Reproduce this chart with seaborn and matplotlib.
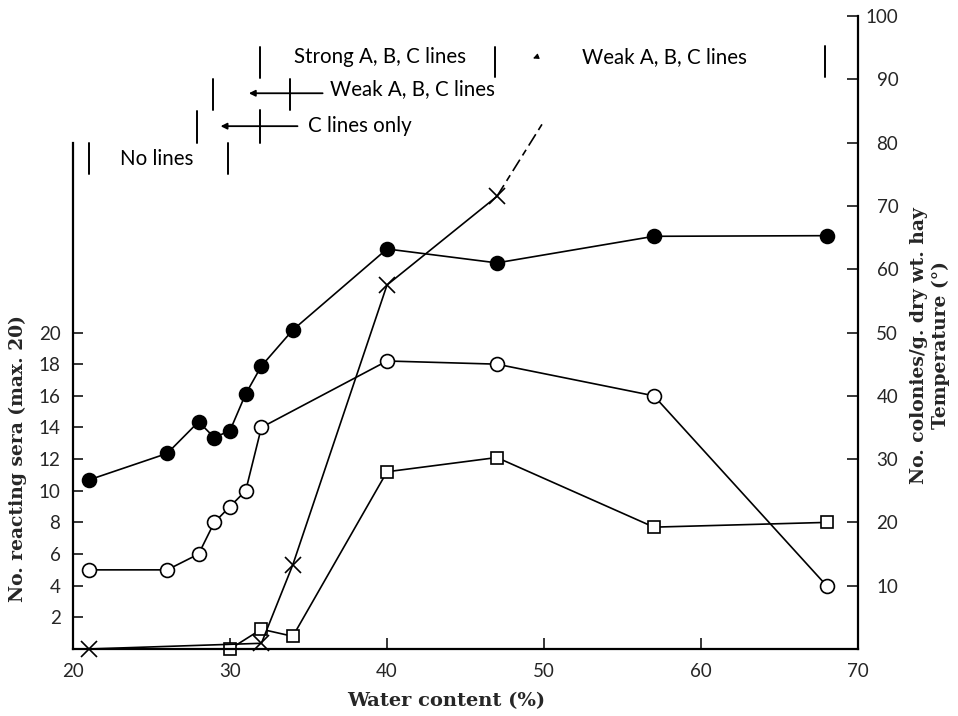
import matplotlib
matplotlib.use("Agg")
import matplotlib.pyplot as plt
import seaborn as sns

# ---- data -------------------------------------------------------------
# water content (%) for each series
temp_x = [21, 26, 28, 29, 30, 31, 32, 34, 40, 47, 57, 68]
temp_y = [26.7, 30.9, 35.9, 33.4, 34.5, 40.3, 44.7, 50.4, 63.2, 61.0, 65.2, 65.3]   # temperature (deg)

sera_x = [21, 26, 28, 29, 30, 31, 32, 40, 47, 57, 68]
sera_y = [5, 5, 6, 8, 9, 10, 14, 18.2, 18, 16, 4]                              # reacting sera

sq_x = [21, 30, 32, 34, 40, 47, 57, 68]
sq_y = [0, 0, 1.25, 0.8, 11.2, 12.1, 7.7, 8.0]                                 # reacting sera (second set)

col_x = [21, 32, 34, 40, 47]
col_y = [0, 0.9, 13.3, 57.5, 71.5]                                             # colonies / g dry wt.
col_ext_x = [47, 50]
col_ext_y = [71.5, 83.4]                                                       # projected continuation

x_ticks = [20, 30, 40, 50, 60, 70]
left_ticks = [2, 4, 6, 8, 10, 12, 14, 16, 18, 20]
right_ticks = [10, 20, 30, 40, 50, 60, 70, 80, 90, 100]

# precipitin-line zones drawn across the top (x in water %, y on right scale)
zone_labels = ["No lines", "C lines only", "Weak A, B, C lines",
               "Strong A, B, C lines", "Weak A, B, C lines"]
zone_text_x = [23.0, 35.0, 36.4, 34.1, 52.4]
zone_text_y = [77.4, 82.6, 88.4, 93.5, 93.5]
bar_x = [21.0, 29.9, 27.9, 31.9, 28.9, 33.8, 31.9, 46.9, 67.9]
bar_y0 = [75.0, 75.0, 80.0, 80.0, 85.2, 85.2, 90.2, 90.3, 90.3]
bar_y1 = [80.0, 80.0, 85.0, 85.1, 90.0, 90.0, 95.1, 95.1, 95.3]
arrow_tail_x = [34.3, 35.9]
arrow_head_x = [29.4, 31.2]
arrow_y = [82.6, 87.8]

# ---- styling ----------------------------------------------------------
sns.set_theme(style="ticks")
plt.rcParams["font.family"] = ["Lato", "DejaVu Sans"]
serif = dict(family="DejaVu Serif", weight="bold", size=13.5)

fig = plt.figure(figsize=(9.58, 7.16), dpi=100)
ax = fig.add_axes([0.0762, 0.0936, 0.8194, 0.884])
ax2 = ax.twinx()

line_kw = dict(color="black", linewidth=1.2, clip_on=False, markeredgewidth=1.2,
               markeredgecolor="black")

# left-axis series
sns.lineplot(x=sera_x, y=sera_y, ax=ax, marker="o", markersize=10,
             markerfacecolor="white", **line_kw)
sns.lineplot(x=sq_x, y=sq_y, ax=ax, marker="s", markersize=9,
             markerfacecolor="white", markevery=list(range(1, len(sq_x))), **line_kw)

# right-axis series
sns.lineplot(x=temp_x, y=temp_y, ax=ax2, marker="o", markersize=10,
             markerfacecolor="black", **line_kw)
sns.lineplot(x=col_x, y=col_y, ax=ax2, marker="x", markersize=11, **line_kw)
ax2.plot(col_ext_x, col_ext_y, color="black", linewidth=1.2,
         dashes=(8, 3, 4, 3), clip_on=False)

# ---- axes -------------------------------------------------------------
ax.set_xlim(20, 70)
ax.set_ylim(0, 40)
ax2.set_ylim(0, 100)

ax.set_xticks(x_ticks)
ax.set_yticks(left_ticks)
ax2.set_yticks(right_ticks)

ax.tick_params(axis="x", direction="in", length=8, width=1.3, pad=10, labelsize=13.5)
ax.tick_params(axis="y", direction="in", length=7, width=1.3, pad=9, labelsize=13.5)
ax2.tick_params(axis="y", direction="in", length=8, width=1.3, pad=29, labelsize=13.5)
for lbl in ax2.get_yticklabels():
    lbl.set_horizontalalignment("right")

for s in ["top", "right"]:
    ax.spines[s].set_visible(False)
for s in ["top", "left", "bottom"]:
    ax2.spines[s].set_visible(False)
ax.spines["left"].set_bounds(0, 32)
ax.spines["bottom"].set_bounds(20, 70)
ax2.spines["right"].set_bounds(0, 100)
for sp in [ax.spines["left"], ax.spines["bottom"], ax2.spines["right"]]:
    sp.set_linewidth(1.6)
    sp.set_color("black")

ax.set_xlabel("Water content (%)", family="DejaVu Serif", weight="bold", size=14)
ax.xaxis.set_label_coords(0.475, -0.068)
ax.set_ylabel("")
ax2.set_ylabel("")
fig.text(0.0188, 0.360, "No. reacting sera (max. 20)", rotation=90,
         ha="center", va="center", **serif)
fig.text(0.971, 0.518, "No. colonies/g. dry wt. hay\nTemperature (°)", rotation=90,
         ha="center", va="center", multialignment="center", linespacing=1.25, **serif)

# ---- zone annotations -------------------------------------------------
for x, y0, y1 in zip(bar_x, bar_y0, bar_y1):
    ax2.plot([x, x], [y0, y1], color="black", linewidth=1.4, clip_on=False)
for t, x, y in zip(zone_labels, zone_text_x, zone_text_y):
    ax2.text(x, y, t, ha="left", va="center", fontsize=14.8, color="black")
for xt, xh, y in zip(arrow_tail_x, arrow_head_x, arrow_y):
    ax2.annotate("", xy=(xh, y), xytext=(xt, y),
                 arrowprops=dict(arrowstyle="-|>", color="black", lw=1.3,
                                 mutation_scale=9, shrinkA=0, shrinkB=0))
ax2.annotate("", xy=(49.3, 93.3), xytext=(49.6, 93.6),
             arrowprops=dict(arrowstyle="-|>", color="black", lw=0.8,
                             mutation_scale=8, shrinkA=0, shrinkB=0))

fig.savefig("out.png", dpi=100)
